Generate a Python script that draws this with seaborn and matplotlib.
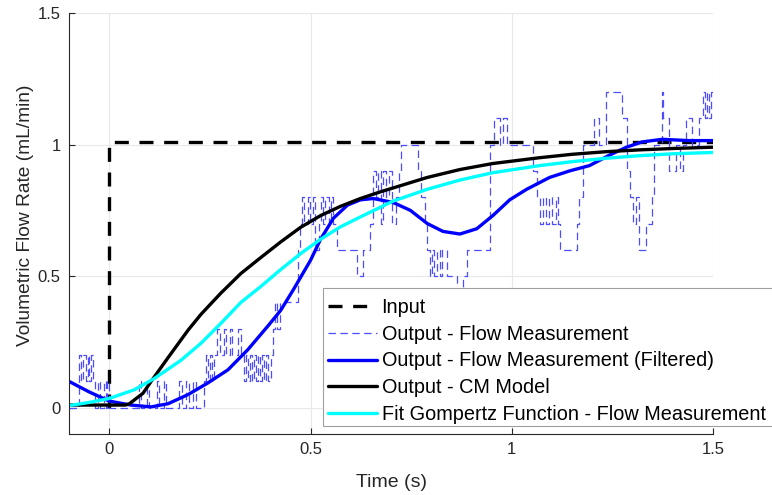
import numpy as np
import pandas as pd
import matplotlib
matplotlib.use("Agg")
import matplotlib.pyplot as plt
from matplotlib.patches import Rectangle
import seaborn as sns

# Step input
input_t = [0.0, 0.0, 1.5]
input_v = [0.0, 1.008, 1.008]

# Raw flow measurement (sample-and-hold values, quantised at 0.1 mL/min)
meas_t = [-0.1, -0.074, -0.069, -0.064, -0.059, -0.054, -0.050, -0.045, -0.040, -0.035,
          -0.027, -0.022, -0.012, -0.007, -0.005, 0.0, 0.074, 0.079, 0.094, 0.099,
          0.119, 0.124, 0.136, 0.141, 0.173, 0.181, 0.191, 0.198, 0.208, 0.215,
          0.235, 0.240, 0.245, 0.250, 0.255, 0.260, 0.267, 0.275, 0.285, 0.290,
          0.300, 0.304, 0.319, 0.327, 0.334, 0.339, 0.344, 0.349, 0.354, 0.359,
          0.364, 0.369, 0.374, 0.379, 0.384, 0.389, 0.394, 0.401, 0.408, 0.413,
          0.418, 0.423, 0.468, 0.475, 0.480, 0.485, 0.493, 0.498, 0.505, 0.512,
          0.520, 0.525, 0.530, 0.537, 0.545, 0.550, 0.557, 0.567, 0.616, 0.631,
          0.649, 0.656, 0.663, 0.668, 0.676, 0.681, 0.688, 0.696, 0.703, 0.713,
          0.720, 0.725, 0.767, 0.775, 0.785, 0.790, 0.797, 0.802, 0.807, 0.814,
          0.822, 0.827, 0.839, 0.864, 0.879, 0.889, 0.946, 0.955, 0.970, 0.978,
          0.988, 1.052, 1.062, 1.069, 1.077, 1.084, 1.092, 1.099, 1.109, 1.116,
          1.121, 1.161, 1.168, 1.176, 1.205, 1.218, 1.235, 1.275, 1.287, 1.295,
          1.302, 1.309, 1.317, 1.334, 1.349, 1.354, 1.374, 1.376, 1.391, 1.408,
          1.418, 1.426, 1.433, 1.448, 1.465, 1.475, 1.480, 1.485, 1.490, 1.495,
          1.5]
meas_v = [0.0, 0.2, 0.1, 0.2, 0.1, 0.2, 0.1, 0.2, 0.1, 0.0,
          0.1, 0.0, 0.1, 0.0, 0.1, 0.0, 0.1, 0.0, 0.1, 0.0,
          0.1, 0.0, 0.1, 0.0, 0.1, 0.0, 0.1, 0.0, 0.1, 0.0,
          0.1, 0.2, 0.1, 0.2, 0.1, 0.2, 0.3, 0.2, 0.3, 0.2,
          0.3, 0.2, 0.3, 0.2, 0.1, 0.2, 0.1, 0.2, 0.1, 0.2,
          0.1, 0.2, 0.1, 0.2, 0.1, 0.2, 0.1, 0.2, 0.3, 0.4,
          0.3, 0.4, 0.6, 0.7, 0.8, 0.7, 0.8, 0.7, 0.8, 0.6,
          0.7, 0.8, 0.7, 0.8, 0.7, 0.8, 0.7, 0.6, 0.5, 0.6,
          0.7, 0.9, 0.8, 0.9, 0.7, 0.9, 0.8, 0.9, 0.7, 0.8,
          0.9, 1.0, 0.9, 0.8, 0.7, 0.6, 0.5, 0.6, 0.5, 0.6,
          0.5, 0.6, 0.5, 0.4, 0.5, 0.6, 1.0, 1.1, 1.0, 1.1,
          1.0, 0.9, 0.8, 0.7, 0.8, 0.7, 0.8, 0.7, 0.8, 0.7,
          0.6, 0.7, 0.8, 1.0, 1.1, 1.0, 1.2, 1.1, 0.9, 0.8,
          0.7, 0.8, 0.6, 0.7, 0.8, 1.0, 1.2, 1.1, 0.9, 1.0,
          0.9, 1.0, 1.1, 1.0, 1.1, 1.2, 1.1, 1.2, 1.1, 1.2,
          1.2]

# Filtered flow measurement
filt_t = [-0.1, -0.05, 0.0, 0.054, 0.104, 0.146, 0.196, 0.245, 0.295, 0.344,
          0.394, 0.426, 0.458, 0.5, 0.525, 0.557, 0.592, 0.624, 0.656, 0.705,
          0.748, 0.79, 0.829, 0.871, 0.913, 0.953, 0.995, 1.037, 1.094, 1.144,
          1.193, 1.243, 1.285, 1.324, 1.374, 1.441, 1.5]
filt_v = [0.10, 0.06, 0.025, 0.01, 0.003, 0.015, 0.05, 0.094, 0.144, 0.22,
          0.31, 0.37, 0.45, 0.56, 0.64, 0.72, 0.77, 0.79, 0.795, 0.78,
          0.75, 0.70, 0.67, 0.66, 0.68, 0.73, 0.79, 0.83, 0.875, 0.90,
          0.92, 0.96, 0.99, 1.01, 1.02, 1.015, 1.015]

# CM model response
cm_t = [-0.1, 0.0, 0.04, 0.05, 0.084, 0.104, 0.146, 0.196, 0.228,
        0.277, 0.327, 0.376, 0.426, 0.475, 0.525, 0.574, 0.624, 0.673, 0.705,
        0.79, 0.871, 0.953, 1.069, 1.15, 1.235, 1.32, 1.4, 1.5]
cm_v = [0.01, 0.01, 0.01, 0.015, 0.055, 0.1, 0.19, 0.295, 0.355,
        0.435, 0.51, 0.57, 0.63, 0.685, 0.73, 0.765, 0.795, 0.82, 0.835,
        0.875, 0.905, 0.928, 0.95, 0.963, 0.973, 0.98, 0.985, 0.99]

# Gompertz fit of the flow measurement
gomp_t = [-0.1, -0.05, 0.0, 0.062, 0.111, 0.178, 0.228, 0.277, 0.327, 0.376,
          0.426, 0.475, 0.525, 0.574, 0.624, 0.705, 0.79, 0.871, 0.953, 1.069,
          1.15, 1.235, 1.32, 1.4, 1.5]
gomp_v = [0.008, 0.02, 0.035, 0.068, 0.11, 0.18, 0.245, 0.32, 0.40, 0.46,
          0.525, 0.585, 0.64, 0.687, 0.725, 0.785, 0.83, 0.865, 0.893, 0.92,
          0.935, 0.948, 0.958, 0.965, 0.97]

x_ticks = [0, 0.5, 1, 1.5]
x_ticklabels = ["0", "0.5", "1", "1.5"]
y_ticks = [0, 0.5, 1, 1.5]
y_ticklabels = ["0", "0.5", "1", "1.5"]

sns.set_theme(style="whitegrid")
plt.rcParams["font.family"] = ["Liberation Sans", "DejaVu Sans"]

W, H = 772, 495
fig = plt.figure(figsize=(W / 100, H / 100), dpi=100)
ax = fig.add_axes([69 / W, 1 - 434 / H, 644 / W, 421 / H])
ax.set_facecolor("white")

sns.lineplot(x=input_t, y=input_v, ax=ax, color="black", lw=2.4,
             estimator=None, sort=False, label="Input")
ax.lines[-1].set_dashes((4.2, 3.2))

sns.lineplot(x=meas_t, y=meas_v, ax=ax, color="#4d4dff", lw=0.9,
             estimator=None, sort=False, drawstyle="steps-post",
             label="Output - Flow Measurement")
ax.lines[-1].set_dashes((6, 3.5))

sns.lineplot(x=filt_t, y=filt_v, ax=ax, color="#0000ff", lw=2.4,
             estimator=None, sort=False,
             label="Output - Flow Measurement (Filtered)")
sns.lineplot(x=cm_t, y=cm_v, ax=ax, color="black", lw=2.4,
             estimator=None, sort=False, label="Output - CM Model")
sns.lineplot(x=gomp_t, y=gomp_v, ax=ax, color="#00ffff", lw=2.4,
             estimator=None, sort=False,
             label="Fit Gompertz Function - Flow Measurement")

ax.set_xlim(-0.1, 1.5)
ax.set_ylim(-0.1, 1.5)
ax.set_xticks(x_ticks)
ax.set_xticklabels(x_ticklabels)
ax.set_yticks(y_ticks)
ax.set_yticklabels(y_ticklabels)
ax.grid(True, color="#e8e8e8", lw=0.8)
for side in ["top", "right"]:
    ax.spines[side].set_visible(False)
for side in ["left", "bottom"]:
    ax.spines[side].set_color("#262626")
    ax.spines[side].set_linewidth(0.8)
ax.tick_params(axis="both", direction="in", length=4, width=0.8,
               colors="#262626", labelsize=12, pad=6)
ax.tick_params(axis="both", bottom=True, left=True)
ax.set_xlabel("Time (s)", fontsize=14, color="#262626", labelpad=12)
ax.set_ylabel("Volumetric Flow Rate (mL/min)", fontsize=13.8, color="#262626")
ax.yaxis.set_label_coords(-(69 - 34) / 644, 0.52)

# Legend box, drawn separately so its padding can be set exactly
frame = Rectangle((323 / W, 1 - 426 / H), 460 / W, 138 / H,
                  transform=fig.transFigure, facecolor="white",
                  edgecolor="#a0a0a0", lw=0.8, clip_on=False, zorder=4.5)
ax.add_patch(frame)

leg = ax.legend(loc="upper left", bbox_to_anchor=(323 / W, 1 - 293 / H),
                bbox_transform=fig.transFigure, fontsize=14.3, frameon=False,
                handlelength=2.45, handletextpad=0.25, borderpad=0.25,
                labelspacing=0.39, borderaxespad=0)
for t in leg.get_texts():
    t.set_color("black")

fig.savefig("out.png", dpi=100, facecolor="white")
